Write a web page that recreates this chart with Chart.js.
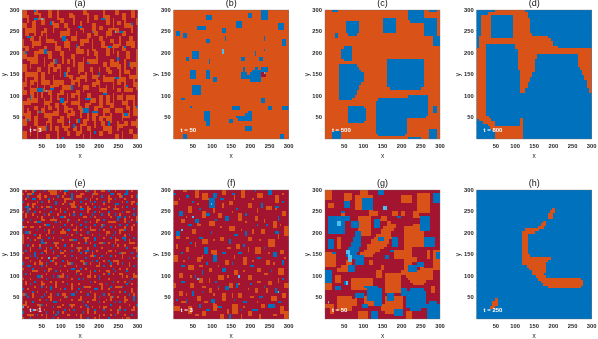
<!DOCTYPE html>
<html lang="en">
<head>
<meta charset="UTF-8">
<title>lattice snapshots</title>
<script src="https://cdn.jsdelivr.net/npm/chart.js@4/dist/chart.umd.min.js"></script>
<style>
  html, body { margin: 0; padding: 0; background: #fff; overflow: hidden; }
  canvas { position: absolute; filter: blur(0.35px); }
</style>
</head>
<body>
<script>
const titles = ['(a)', '(b)', '(c)', '(d)', '(e)', '(f)', '(g)', '(h)'];
const timeLabels = ['t = 3', 't = 50', 't = 500', 't = 800', 't = 1', 't = 3', 't = 50', 't = 250'];
const tickValues = [50, 100, 150, 200, 250, 300];
const baseLetters = ['r', 'o', 'o', 'b', 'r', 'r', 'r', 'b'];

// clumps as [colFrom, colTo, rowFrom, rowTo], top row is 0
const orangeA = [[0,1,0,2],[2,2,2,4],[5,6,0,1],[7,7,1,3],[8,9,3,5],[11,12,0,2],[15,15,0,3],[16,17,3,4],[20,21,1,2],[22,22,2,5],[26,27,0,1],[28,28,1,4],[31,32,2,3],[35,35,0,2],[36,37,2,5],[40,41,0,1],[43,44,1,3],[44,44,3,6],[47,48,0,2],[49,49,3,5],
[4,5,4,6],[5,5,6,9],[12,13,4,5],[13,13,5,8],[18,19,5,6],[19,20,7,9],[25,25,4,7],[26,26,7,8],[30,31,5,7],[33,34,6,7],[39,39,3,7],[40,41,7,8],[47,47,5,8],[0,1,5,6],[1,2,7,9],[9,10,7,8],[10,10,8,11],[16,16,8,10],[23,23,8,11],[28,29,9,10],[36,36,8,10],[43,44,8,9],
[3,4,10,11],[4,4,11,14],[7,7,10,13],[12,13,11,12],[14,14,12,15],[18,19,11,12],[20,20,12,15],[25,26,11,13],[30,30,11,14],[33,34,10,11],[34,35,12,14],[38,39,11,12],[39,39,12,16],[42,42,10,13],[46,47,10,11],[47,48,12,14],[0,0,11,14],[1,2,14,15],[9,10,14,15],[23,24,14,16],[28,28,15,17],[43,44,14,15],
[5,6,16,17],[6,6,17,20],[11,12,16,18],[16,17,16,17],[17,17,17,20],[21,22,17,18],[22,22,18,21],[31,32,16,17],[32,32,17,20],[36,37,16,17],[41,41,16,19],[45,46,16,18],[49,49,15,19],[2,3,18,19],[3,3,19,22],[9,9,18,21],[13,14,19,20],[26,26,18,21],[28,29,19,20],[35,36,20,21],[38,39,19,21],[44,44,19,22],[47,47,20,22],
[0,1,21,23],[6,7,22,23],[11,11,21,24],[15,16,21,22],[16,16,22,25],[19,20,22,23],[24,24,21,24],[29,30,22,23],[30,30,23,26],[33,33,22,25],[37,38,23,24],[41,42,21,22],[42,42,22,25],[46,46,23,26],[49,49,22,24],[3,4,24,25],[8,9,24,26],[13,13,25,28],[20,21,25,26],[27,27,24,27],[35,35,25,27],
[1,1,26,29],[5,6,26,27],[6,6,27,30],[10,11,27,28],[16,17,27,28],[17,17,28,31],[23,24,26,27],[24,24,27,29],[32,33,27,28],[33,33,28,31],[38,39,26,27],[39,39,27,30],[43,44,26,27],[44,44,27,29],[48,48,26,29],[3,3,29,32],[9,9,29,31],[20,21,29,30],[27,28,29,30],[36,36,29,32],[41,42,30,31],[46,47,30,31],
[0,1,31,32],[6,6,32,35],[11,12,31,32],[12,12,32,35],[15,15,32,34],[19,19,32,35],[23,24,31,32],[24,24,32,34],[28,29,32,33],[29,29,33,36],[33,34,33,34],[39,39,32,35],[43,43,32,36],[47,48,33,34],[48,48,34,36],[2,3,34,36],[9,9,34,37],[21,22,35,36],[36,37,35,36],
[0,0,37,40],[5,6,37,38],[6,6,38,41],[11,12,37,38],[14,15,36,37],[15,15,37,40],[18,19,37,39],[24,25,37,38],[25,25,38,41],[31,32,37,38],[32,32,38,40],[35,35,38,41],[40,41,38,39],[45,46,37,38],[46,46,38,41],[3,3,39,42],[9,10,40,41],[21,22,39,40],[28,28,39,42],[38,38,40,43],[43,43,40,42],[48,49,39,40],
[0,1,42,44],[5,6,43,44],[11,12,42,43],[12,12,43,46],[16,17,41,42],[17,17,42,45],[20,20,42,45],[23,24,42,43],[25,25,44,47],[30,31,41,42],[31,31,42,45],[34,35,43,44],[41,41,43,46],[44,45,43,44],[49,49,42,45],[3,3,45,48],[8,9,45,46],[14,15,45,46],[22,23,45,46],[28,29,45,46],[37,38,45,47],[46,47,46,47],
[0,1,47,49],[6,6,47,49],[10,11,48,49],[15,15,47,49],[19,20,47,48],[26,26,48,49],[29,29,47,49],[33,34,47,48],[40,41,48,49],[43,43,47,49],[48,49,48,49],
[3,4,7,8],[8,8,8,9],[14,15,5,6],[17,18,8,9],[21,22,10,11],[27,28,11,12],[31,32,8,9],[37,38,7,9],[41,42,4,5],[45,46,5,6],[5,6,12,13],[10,11,11,12],[15,16,14,15],[18,19,13,14],[25,26,15,16],[30,31,15,15],[36,37,14,15],[40,41,13,14],[45,46,12,13],[0,1,16,18],[7,8,15,16],[12,13,20,21],[19,20,19,20],[24,25,20,21],[30,31,19,20],[40,41,20,21],[48,49,20,21],[4,5,18,20],[1,2,24,25],[5,6,24,25],[13,14,22,23],[18,19,24,25],[25,26,22,23],[31,32,25,26],[36,37,22,23],[44,45,23,24],[48,49,25,26],[3,4,27,28],[8,9,27,28],[14,15,27,29],[21,22,27,28],[25,26,25,26],[30,31,28,29],[36,37,26,27],[41,42,26,28],[46,47,25,26],[0,0,28,30],[4,5,30,31],[12,13,29,30],[18,19,29,30],[26,26,29,31],[34,35,30,31],[44,45,30,31],[49,49,28,30],[3,4,32,33],[8,8,32,33],[16,17,31,32],[21,22,32,33],[30,31,34,35],[36,37,33,34],[41,42,33,34],[45,46,33,34],[0,1,35,36],[4,5,34,35],[10,11,35,36],[17,18,35,36],[23,24,35,36],[33,34,35,37],[38,39,36,37],[44,45,35,36],[2,2,38,39],[8,9,38,39],[13,14,39,40],[20,21,38,38],[27,28,36,38],[30,31,39,40],[36,37,38,39],[42,43,38,39],[48,49,37,38],[1,2,40,41],[5,6,41,42],[11,12,40,41],[15,16,42,43],[19,20,40,41],[26,27,42,44],[33,34,41,42],[36,37,41,42],[44,45,40,41],[6,7,45,46],[10,10,43,44],[18,19,45,46],[23,24,47,48],[35,36,45,46],[42,43,44,45],[47,48,43,44]];
const blueA = [[5,6,3,3],[12,12,4,5],[24,25,6,6],[34,35,3,3],[42,43,8,8],[47,47,5,5],[2,3,10,10],[17,18,10,11],[30,30,8,8],[37,38,14,14],[9,10,15,16],[23,23,13,14],[44,44,14,14],[1,1,16,16],[28,28,20,20],[14,14,19,20],[41,41,18,19],[6,8,30,31],[18,18,24,25],[33,33,24,25],[46,46,20,21],[12,13,30,30],[27,29,34,34],[21,21,29,30],[40,41,26,26],[3,3,33,34],[35,36,32,32],[45,45,29,29],[16,17,34,35],[30,32,39,39],[7,7,39,39],[24,24,42,43],[37,37,43,44],[10,10,45,46],[22,22,44,45],[44,45,40,40],[49,49,37,37],[31,31,47,47],[17,17,49,49],[2,2,42,42],[26,28,38,39],[5,5,0,0]];
const lightA = [[10,10,31,31],[8,8,3,3],[40,40,8,8],[3,3,46,46],[20,20,43,43]];

const orangeF = [[9,10,0,2],[12,14,1,3],[21,22,0,1],[29,30,0,2],[36,38,1,2],[44,45,2,4],[0,1,4,5],[6,7,6,8],[24,25,4,5],[32,33,5,6],[40,42,6,7],[47,48,8,9],[12,13,8,10],[19,20,9,10],[28,29,9,11],[35,36,10,11],[3,4,11,12],[15,17,12,13],[43,44,12,14],[24,26,14,15],[8,9,15,16],[38,39,15,16],[48,49,14,17],[1,2,17,18],[20,21,18,19],[32,33,18,19],[12,14,19,20],[41,43,19,21],[27,28,21,22],[5,6,22,23],[35,37,22,24],[46,47,23,24],[16,18,23,24],[0,1,25,27],[10,11,26,27],[30,31,26,28],[22,23,27,28],[40,41,27,28],[6,8,29,30],[15,16,30,31],[36,37,30,31],[45,47,30,32],[26,27,31,32],[2,3,32,33],[19,21,33,34],[11,12,34,35],[32,33,33,34],[41,42,35,36],[7,8,36,37],[24,25,36,37],[48,49,36,37],[15,16,38,39],[35,36,38,39],[2,3,39,40],[28,29,40,41],[21,22,40,42],[10,11,41,42],[42,44,41,42],[17,18,44,46],[25,27,44,47],[0,2,45,46],[6,7,45,47],[38,39,44,45],[46,47,45,47],[12,13,47,48],[32,33,47,48],[20,21,48,49],[48,49,47,49],
[4,5,0,0],[17,17,7,8],[26,26,2,3],[34,34,3,3],[47,47,1,1],[2,2,3,3],[10,10,5,5],[21,21,5,6],[36,36,7,8],[44,44,7,7],[5,5,10,10],[25,25,8,8],[31,31,12,12],[39,39,11,12],[46,46,13,13],[10,11,13,13],[20,20,14,14],[29,29,15,15],[34,34,15,16],[5,6,18,18],[17,17,19,19],[37,37,19,19],[45,45,17,18],[9,9,20,21],[23,24,22,22],[32,32,22,23],[41,41,24,24],[1,1,21,22],[12,12,25,26],[26,26,25,26],[48,48,26,26],[4,4,27,27],[19,19,29,29],[34,34,27,27],[43,43,28,28],[11,12,29,29],[30,30,31,31],[39,40,32,32],[23,23,33,33],[7,7,33,33],[15,15,34,35],[28,28,36,36],[36,37,35,35],[45,45,34,35],[0,0,36,37],[12,13,37,37],[19,19,38,38],[32,32,38,38],[40,40,38,39],[5,5,40,40],[17,17,40,40],[25,25,40,41],[33,34,41,41],[47,48,40,41],[13,14,43,43],[30,30,45,45],[36,36,43,43],[3,4,43,43],[23,23,46,47],[9,10,48,48],[29,29,48,49],[37,37,48,49],[43,44,48,48]];
const blueF = [[15,17,3,6],[17,18,1,2],[5,6,2,2],[25,26,1,1],[41,42,0,1],[2,3,8,9],[9,10,11,12],[22,23,10,11],[27,27,7,7],[38,38,5,6],[47,47,4,4],[14,15,9,9],[1,2,16,17],[11,12,18,18],[13,14,22,24],[17,18,25,27],[24,24,19,20],[31,31,16,17],[40,40,13,13],[45,45,10,11],[6,6,26,26],[28,29,24,24],[36,37,26,26],[43,44,24,25],[3,4,29,29],[21,22,30,31],[12,12,31,32],[33,34,29,29],[47,47,27,28],[8,8,39,40],[27,27,36,37],[16,17,42,43],[30,31,43,43],[22,23,37,38],[37,38,41,41],[41,43,44,45],[5,5,42,43],[24,24,48,49],[14,15,46,46],[34,36,46,46],[3,4,35,35],[44,44,38,39],[19,19,37,37],[11,11,44,45],
[0,0,1,1],[8,8,4,4],[20,21,3,3],[35,35,0,0],[44,45,6,6],[11,11,7,7],[31,31,9,9],[18,18,11,11],[6,7,13,13],[36,36,13,13],[26,27,17,17],[16,16,16,16],[44,45,16,16],[7,7,20,20],[30,30,21,21],[39,39,22,22],[21,22,24,24],[3,3,24,24],[14,14,28,28],[25,25,28,28],[42,42,31,31],[9,9,33,33],[18,18,35,35],[33,33,36,36],[47,47,34,34],[1,1,42,42],[12,12,39,39],[26,26,42,42],[39,39,37,37],[19,20,45,45],[29,29,46,46],[45,46,43,43]];
const lightF = [[16,16,5,5],[3,3,15,15],[10,10,34,34],[45,45,39,39],[8,8,10,10],[28,28,33,33]];

// one letter per block: r red, o orange, b blue, c light blue
const rowsE = [
'rorrobrrrbroorrrorbbrrrorrrobrrrrroorbrrorrrrbrorrb',
'orrrbrrorrrrobrrrrorrbrrroorrrbrorrrrrbbrorrorrrrrr',
'rrbrrrorroorrrrbrorrrrrorbrrrrorrrbrrorrrrrbrrrorbr',
'rorrbbrrrrrbrorrrrroorrrrrrbrorrorrrrorrbrrrorrrrrr',
'brrrrrorbrrorrbrrrbrrrorrbrrrrrbrrrbrorrrrrorbrrorr',
'rrorrorrrrrrrrorrorrbrrrrrrorrorrrrorrrrbbrrrrrorbr',
'rbrrrrbrorrobrrrrrrrrorbrorrrrrbrbrrrorrrrrorbrrrrr',
'rrrorrrrrbrrrrorbrrorrrrrrbrrorrrrrrorrbrorrrrrrbro',
'orbrrbrorrrrbrrrrrbrrrorrrrrorrbrorrrrrrrrrbrrorrrr',
'rrrrorrrrbrorrrorrrrorbrrbrrrrrrrrbrrorrbrorrrrrbrr',
'rorrrrorrrrrrbrrbrorrrrrrrrorbrorrrrrrorrrrrbrorrro',
'brrbrrrrrorrorrrrrrrbrrrorrrrrrrrorbrrrrrbrrrrrorrr',
'rrorrorbrrrrrrbrorrorrrbrrrbrorrrrrrrorrorrrorbrrbr',
'rrrrrrrrrorbrrrrrrbrrorrrorrrrrbrrobrrrrrrbrrrrrorr',
'corrbrrorrrrrorrbrrrrrrrrrrbrorrrrrrrrbrorrrorrrrrb',
'rrrrrrbrrbrorrrrrorrbrorrorrrrrorbrorrrrrrrrbrrorrr',
'rbrorrrrrrrrrbrrorrrrrrbrrrrbrrrrrrrrorrbrorrrrrrro',
'orrrrbrorrorrrrrrrrbrorrrorrrrorrbrrrrrrrrrrorbrrrr',
'rrorrrrrrrrbrorrbrrrrrrrrrbrorrrrrrorrbrorrrrrrrbro',
'rrrbrorrbrrrrrrrrorrorbrrrrrrrrbrrrrrrrrrorrbrorrrr',
'orrrrrrrrrorrbrorrrrrrrrorrbrorrrorbrorrrrrrrrrrorb',
'rrbrorrorrrrrrrrrrbrrorrrrrrrrrbrrrrrrrbrorrorrrrrr',
'rrrrrrrbrrorbrrorrrrrrrbrorrorrrrrorrrrrrrrrrbrrorr',
'rbrorrrrrrrrrrrrbrorrorrrrrrrrbrorrrrbrrorrrrrrrrrb',
'orrrrorrbrorrorrrrrrrrrrrbrorrrrrrrrorrrrrbrorrorrr',
'rrrbrrrrrrrrrrrbrrorrbrrrrrrrorbrrrrrrbrorrrrrrrrbr',
'rorrrrbrorrcrrorrrrrrrrorrrbrrrrrorrrrrrrrrorrbrorr',
'rrrorrrrrrrrbrrrrbrorrrrrorrrrrrbrrorbrorrrrrrrrrro',
'brrrrorrorrrrrorrrrrrbrrrrrbrorrrrrrrrrrrorbrrorrrr',
'rrorrrrrbrorrrrrbrorrrrorrrrrrrrorrbrrorrrrrrrrrbrr',
'orrrbrrrrrrrorrrrrrrrbrrrbrorrrrrrrrrrrbrrorrorrrro',
'rrrrrrorrbrrrrbrorrorrrrrrrrrorbrorrrrrrrrrrrbrrrrr',
'rbrorrrrrrorrrrrrrrrrrrbrorrrrrrrrrorbrorrorrrrrorb',
'rrrrrrbrorrrrbrrorrbrrrrrrrrorrorrrrrrrrrrrbrorrrrr',
'orrorrrrrrbrrrrrrrrrrorrbrorrrrrrbrrrorrrrrrrrrbrro',
'rrrrrbrrorrrorbrrorrrrrrrrrrrbrorrrrrrrbrorrorrrrrr',
'rorbrrrrrrrrrrrrrrrbrorrorrrrrrrrorrbrrrrrrrrbrorrr',
'rrrrrorrbrorrrorrrrrrrrrrrbrrorrrrrrrrrrorrbrrrrrrb',
'brorrrrrrrrrbrrrorbrrorrrrrrrrrrbrorrorrrrrrrrrorrr',
'rrrrbrorrrorrrrrrrrrrrrbrorrrorrrrrrrrrbrrorbrrrrro',
'orrrrrrrrbrrorrbrorrrorrrrrrbrrorrrrrorrrrrrrrbrorr',
'rrbrorrrrrrrrrrrrrrbrrrrrorrrrrrrbrrrrrbrorrorrrrrr',
'rrrrrrrorrbrorrrorrrrorrbrrrrrorrrrrorrrrrrrrrrrbro',
'rorrbrrrrrrrrrbrrrrrrrrrrrbrorrrrbrorrrrorbrorrrrrr',
'rrrrrrorbrorrrrrrorrbrorrrrrrrrrrrrrrrbrrrrrrrorrbr',
'crorrrrrrrrrrbrorrrrrrrrrorrbrorrorrrrrrrrorrrrrrrr',
'rrrrbrorrorrrrrrrrrrorbrrrrrrrrrrrrbrrorrrbrorrorrb',
'brrrrrrrrrbrrorbrorrrrrrrrbrorrorrrrrrrrrrrrrrrrrrr',
'rrorrrbrorrrrrrrrrrrbrrorrrrrrrrrbrorrorbrrrorrbrro',
'orrbrrrrrrorrbrorrrrrrrrrorrbrrorrrrrrrrrrrorrrrrrr'
];
const orangeE = [[2,3,1,1],[7,7,2,3],[13,14,0,1],[18,18,3,4],[24,25,2,2],[31,31,0,1],[37,38,3,3],[42,42,1,2],[47,48,4,4],[4,4,5,6],[10,11,6,6],[16,16,7,8],[21,22,5,6],[28,28,6,7],[34,35,7,7],[40,40,6,7],[45,46,8,8],[1,1,9,10],[8,8,10,11],[13,14,11,11],[19,19,11,12],[26,27,10,10],[32,32,11,12],[38,39,12,12],[44,44,11,12],[49,49,10,11],[3,4,14,14],[11,11,15,16],[17,18,16,16],[23,23,14,15],[29,30,15,15],[36,36,16,17],[42,43,15,15],[47,47,14,15],[0,0,18,19],[6,7,18,18],[14,14,20,21],[20,21,19,19],[27,27,18,19],[33,34,20,20],[40,40,19,20],[46,47,20,20],[3,3,22,23],[9,10,23,23],[16,17,24,24],[24,24,22,23],[30,30,24,25],[37,38,23,23],[43,43,24,25],[49,49,22,23],[1,2,26,26],[7,7,27,28],[13,13,26,27],[19,20,28,28],[26,26,27,28],[33,33,28,29],[40,41,27,27],[46,46,28,29],[4,5,31,31],[11,11,30,31],[17,17,32,33],[23,24,31,31],[29,29,32,33],[36,37,31,31],[43,43,32,33],[48,49,33,33],[1,1,35,36],[8,9,36,36],[14,14,35,36],[21,21,36,37],[27,28,37,37],[34,34,36,37],[41,42,37,37],[47,47,38,39],[4,4,40,41],[11,12,41,41],[18,18,40,41],[24,25,42,42],[31,31,41,42],[38,38,41,42],[44,45,42,42],[0,1,44,44],[7,7,44,45],[15,16,45,45],[21,21,44,45],[28,28,46,47],[35,36,45,45],[41,41,46,47],[48,48,45,46],[3,4,48,48],[10,10,48,49],[19,20,48,48],[25,25,48,49],[33,33,48,49],[45,46,49,49]];
const blueE = [[5,5,0,0],[11,11,3,3],[21,21,2,3],[29,29,4,4],[44,45,1,1],[2,2,6,7],[14,14,5,5],[25,25,7,7],[37,37,8,8],[6,6,12,12],[16,17,10,10],[30,30,9,9],[41,42,10,10],[10,10,13,13],[25,25,13,13],[34,34,14,14],[45,45,13,13],[2,2,16,16],[19,19,15,15],[39,39,17,17],[8,9,20,20],[23,23,19,19],[31,31,18,18],[43,44,18,18],[5,5,24,25],[13,13,23,23],[21,21,23,23],[27,28,23,23],[34,34,25,25],[47,47,24,24],[10,10,28,28],[17,17,27,27],[30,30,27,27],[38,38,28,28],[2,3,29,29],[22,22,30,30],[40,40,31,31],[7,7,33,33],[15,15,33,33],[26,26,34,34],[33,33,33,33],[46,46,35,35],[12,12,37,37],[24,24,38,38],[31,32,38,38],[38,38,37,37],[1,1,40,40],[8,8,41,41],[21,22,40,40],[35,35,40,40],[48,48,41,41],[13,13,43,43],[27,27,44,44],[40,40,43,43],[4,4,46,46],[18,18,46,46],[31,31,46,46],[44,44,46,46],[14,14,48,48],[37,37,49,49]];

// blocks listed as colFrom-colTo for each row, top row first, on a plain background
const blueB = ['38-40','32-33,38-40','14-16,32-33,38-40','14-16,38-40','27-29','27-29,45-47','10-13,27-29,45-47','10-13,21-22,45-47','1-2,21-22','1-2,4-5','4-5,22,39','14-15,22,39,47-48','14-15,47-48','47-48','','39','8-10,35','8-10,35','5-6,8-10,29-30,37-38','5-6,15,29-30,37-38','15','','30,35-36,38-40','7-9,14-15,30,34-40','7-9,14-15,29-31,33-37','7-9,14-15,29-37','7-9,14-15,17-18,29-37','17-18,33-37','','8-11','8-11','8-11','8-11','','3-4,38-39','38-39','','7,25-28,41-42,47-49','25-28,41-42,47-49','13-15,32-33','13-15,31-33','13-15,27-33','13-15,24-25,28-33','14-15,24-25','14-15','31-33','31-33','','4-5,46-47','4-5,46-47'];

const blueC = ['3-5,36-42,45-48','36-42','36-42','25-30,36-48','9-14,25-30,37-48','9-14,25-30,43-48','9-14,25-30,43-48','9-14,25-30,43-48','9-14,25-30,43-48','4-5,10-13,43-48','4-5,47-49','47-49','47-49','47-49','8-11','7-11','7-11','7-11','7-11','8-11,27-42','27-42','6-13,27-42','6-14,27-42','6-15,27-42','6-16,27-42','6-16,27-42','6-16,27-42','6-16,27-42','6-15,27-42','6-14,27-42','6-14,28-41','6-13','6-13','6-12,36-44','6-11,23-44','22-44','22-44','10-16,22-44,47-48','10-17,22-44,47-48','10-17,22-44,47-48','10-17,22-44','10-17,22-43','10-17,22-35','10-16,22-35','22-35','22-35','22-35,45-48','3-6,22-35,45-48','3-6,23-34,45-48','3-6,36-41,45-48'];

const orangeD = ['8-20','5-21','2-5,16-21','2-5,16-22','2-5,16-22','2-5,16-22','2-5,16-22','2-5,16-22','2-5,16-22','2-5,16-23','1-5,16-30','1-31','1-32','1-3,17-32','1-3,17-34','0-3,18-49','0-3,18-49','0-3,18-25,44-49','0-3,18-25,44-49','0-3,18-24,44-49','0-3,18-24,44-49','0-3,18-24,44-49','0-3,18-24,45-49','0-3,19-24,46-49','0-3,19-23,46-49','0-3,19-23,47-49','0-3,19-22,47-49','0-3,19-22,48-49','0-3,19-21,48-49','0-3,19-21,48-49','0-3,19-20,49','0-3,19-20,49','0-3','0-3','0-3','0-3','0-3','0-3','0-3','0-3','0-3','0-4','1-5,19','3-7,19','5-7,19','6-19','7-19','8-19','8-19','8-19'];

const orangeH = ['','','','','','','','33','32-33','31-32','31-32','','29','28-29','27-28','21-26','20-24','20-21','20-21','20-21','20-21','20-21','20-21','20-21','20-21','20-22','20-31','20-30','20-29','22-29','23-29','24-29','24-28','26-29','27-44','28-45','29-45','31-44','','','','','8','7-8','7-8','6-7','','','',''];

const orangeG = [[0,2,0,3],[8,11,1,3],[15,18,0,1],[13,20,2,7],[40,45,1,5],[33,37,2,4],[19,22,8,9],[14,19,10,17],[1,3,5,6],[27,30,13,13],[25,30,14,14],[24,29,15,15],[24,28,16,16],[22,28,17,17],[21,28,18,18],[20,27,19,20],[18,26,21,21],[18,25,22,22],[17,23,23,23],[15,21,24,24],[14,20,25,25],[38,42,13,21],[34,37,14,24],[30,33,23,26],[34,37,19,31],[0,4,24,29],[9,11,27,28],[7,10,29,29],[5,9,30,31],[5,6,18,22],[11,20,34,38],[26,32,32,39],[33,40,31,31],[33,43,32,32],[35,43,33,33],[36,44,34,34],[37,43,35,35],[38,42,36,36],[41,46,30,34],[5,11,41,46],[26,33,41,47],[17,21,41,44],[14,18,47,49],[4,6,33,35],[0,2,36,38],[2,3,44,47],[47,49,23,30],[29,31,8,9],[40,45,6,8],[7,8,9,9],[33,34,8,9],[38,40,8,10],[24,26,10,11],[27,28,12,13],[2,3,12,12],[12,13,20,22],[44,45,23,26],[22,24,31,33],[19,20,27,28],[24,25,29,30],[38,39,26,27],[46,47,37,39],[0,1,44,45],[24,25,44,46],[35,37,47,49],[12,13,42,44]];
const blueG = [[8,10,4,6],[16,20,3,7],[23,25,0,1],[47,49,1,4],[1,8,10,16],[9,10,10,11],[11,14,12,14],[21,23,11,14],[13,15,16,17],[12,15,18,19],[11,15,20,21],[10,14,22,23],[9,13,24,25],[10,12,26,26],[41,45,10,15],[43,47,18,21],[1,3,19,22],[29,31,18,21],[23,25,18,19],[36,39,29,31],[13,16,25,28],[10,12,29,31],[0,2,31,35],[4,6,37,38],[8,9,35,36],[17,22,37,37],[18,24,38,42],[21,24,43,44],[13,16,40,41],[27,29,40,42],[35,43,39,45],[37,42,38,38],[37,41,46,46],[44,49,44,49],[45,48,43,43],[33,35,38,40],[30,33,46,48],[16,18,44,45],[20,22,47,49],[48,49,24,26],[31,32,10,10],[28,29,23,23],[40,42,28,29],[3,4,24,24],[26,27,25,26],[7,8,8,8]];
const lightG = [[5,6,12,13],[9,10,23,24],[10,11,25,27],[25,26,6,7],[9,9,35,36],[1,1,43,43]];
const redB = [[38,39,24,25]];
const lightB = [[39,39,24,24],[21,21,15,16]];

const colors = { r: '#A2142F', o: '#D95319', b: '#0072BD', c: '#4DBEEE' };
const tickColor = '#262626';
const labelFont = 'Liberation Sans, Arial, sans-serif';

// puts blocks into an empty 50 x 50 lattice
function emptyGrid(fill) {
  const g = [];
  for (let r = 0; r < 50; r++) g.push(new Array(50).fill(fill));
  return g;
}
function addRuns(g, rows, letter) {
  rows.forEach((row, r) => {
    if (!row) return;
    row.split(',').forEach(run => {
      const p = run.split('-').map(Number);
      for (let c = p[0]; c <= (p.length > 1 ? p[1] : p[0]); c++) g[r][c] = letter;
    });
  });
}
function addPatches(g, patches, letter) {
  patches.forEach(p => {
    for (let r = p[2]; r <= p[3]; r++)
      for (let c = p[0]; c <= p[1]; c++) g[r][c] = letter;
  });
}
function fromRows(rows) {
  const g = emptyGrid('r');
  rows.forEach((row, r) => {
    for (let c = 0; c < 50 && c < row.length; c++) g[r][c] = row[c];
  });
  return g;
}

const gridA = emptyGrid('r'); addPatches(gridA, orangeA, 'o'); addPatches(gridA, blueA, 'b'); addPatches(gridA, lightA, 'c');
const gridB = emptyGrid('o'); addRuns(gridB, blueB, 'b'); addPatches(gridB, redB, 'r'); addPatches(gridB, lightB, 'c');
const gridC = emptyGrid('o'); addRuns(gridC, blueC, 'b');
const gridD = emptyGrid('b'); addRuns(gridD, orangeD, 'o');
const gridE = fromRows(rowsE); addPatches(gridE, orangeE, 'o'); addPatches(gridE, blueE, 'b');
const gridF = emptyGrid('r'); addPatches(gridF, orangeF, 'o'); addPatches(gridF, blueF, 'b'); addPatches(gridF, lightF, 'c');
const gridG = emptyGrid('r'); addPatches(gridG, orangeG, 'o'); addPatches(gridG, blueG, 'b'); addPatches(gridG, lightG, 'c');
const gridH = emptyGrid('b'); addRuns(gridH, orangeH, 'o');
const grids = [gridA, gridB, gridC, gridD, gridE, gridF, gridG, gridH];

// plot boxes in the page
const plotLefts = [22.5, 173.7, 325, 476.7];
const plotTops = [10, 190];
const plotW = 115, plotH = 129;

function datasetsFor(grid) {
  return ['r', 'o', 'b', 'c'].map(letter => {
    const pts = [];
    grid.forEach((row, r) => row.forEach((v, c) => {
      if (v === letter) pts.push({ x: c * 6 + 3, y: 300 - r * 6 - 3 });
    }));
    return {
      data: pts,
      backgroundColor: colors[letter],
      pointStyle: 'rect',
      pointRadius: 2.1213,   // 3px square
      pointBorderWidth: 0,
      pointHoverRadius: 2.1213,
      showLine: false
    };
  });
}

const framePlugin = {
  id: 'frame',
  afterDatasetsUpdate(chart) {
    // snap blocks to whole pixels, otherwise the seams between them show
    chart.getSortedVisibleDatasetMetas().forEach(meta => {
      meta.data.forEach(p => {
        p.x = Math.floor(p.x) + 0.5;
        p.y = Math.floor(p.y) + 0.5;
      });
    });
  },
  beforeDatasetsDraw(chart, args, opts) {
    const a = chart.chartArea;
    chart.ctx.fillStyle = colors[opts.base];
    chart.ctx.fillRect(a.left, a.top, a.right - a.left, a.bottom - a.top);
  },
  afterDatasetsDraw(chart, args, opts) {
    const a = chart.chartArea, ctx = chart.ctx;
    ctx.save();
    ctx.strokeStyle = 'rgba(110,110,110,0.6)';
    ctx.lineWidth = 0.6;
    ctx.strokeRect(a.left, a.top, a.right - a.left, a.bottom - a.top);
    ctx.fillStyle = '#fff';
    ctx.font = 'bold 6px ' + labelFont;
    ctx.textBaseline = 'middle';
    ctx.fillText(opts.label, chart.scales.x.getPixelForValue(18), chart.scales.y.getPixelForValue(19));
    ctx.restore();
  }
};

function axis(title, pad, fixSize) {
  return {
    type: 'linear',
    min: 0,
    max: 300,
    afterBuildTicks(s) { s.ticks = tickValues.map(v => ({ value: v })); },
    afterFit: fixSize,
    grid: { display: false, drawTicks: false },
    border: { display: false },
    ticks: {
      color: tickColor,
      font: { family: labelFont, size: 5.8, weight: 'bold' },
      padding: pad,
      maxRotation: 0,
      autoSkip: false
    },
    title: {
      display: true,
      text: title,
      color: tickColor,
      font: { family: labelFont, size: 6.5 },
      padding: { top: 0, bottom: 0 }
    }
  };
}

titles.forEach((t, i) => {
  const px = plotLefts[i % 4], py = plotTops[i < 4 ? 0 : 1];
  const left = Math.floor(px) - 22, top = py - 13;
  const marginLeft = px - left;
  const cv = document.createElement('canvas');
  cv.width = plotW + 34;
  cv.height = 13 + plotH + 21;
  cv.style.left = left + 'px';
  cv.style.top = top + 'px';
  document.body.appendChild(cv);
  new Chart(cv.getContext('2d'), {
    type: 'scatter',
    data: { datasets: datasetsFor(grids[i]) },
    options: {
      responsive: false,
      animation: false,
      events: [],
      layout: { padding: { left: 0, right: cv.width - marginLeft - plotW, top: 0, bottom: 0 } },
      plugins: {
        legend: { display: false },
        tooltip: { enabled: false },
        frame: { label: timeLabels[i], base: baseLetters[i] },
        title: {
          display: true,
          text: t,
          fullSize: false,
          color: '#111',
          font: { family: labelFont, size: 9, weight: 'normal', lineHeight: 13 / 9 },
          padding: 0
        }
      },
      scales: {
        x: axis('x', 3.5, s => { s.height = 21; }),
        y: axis('y', 3, s => { s.width = marginLeft; })
      }
    },
    plugins: [framePlugin]
  });
});
</script>
</body>
</html>
